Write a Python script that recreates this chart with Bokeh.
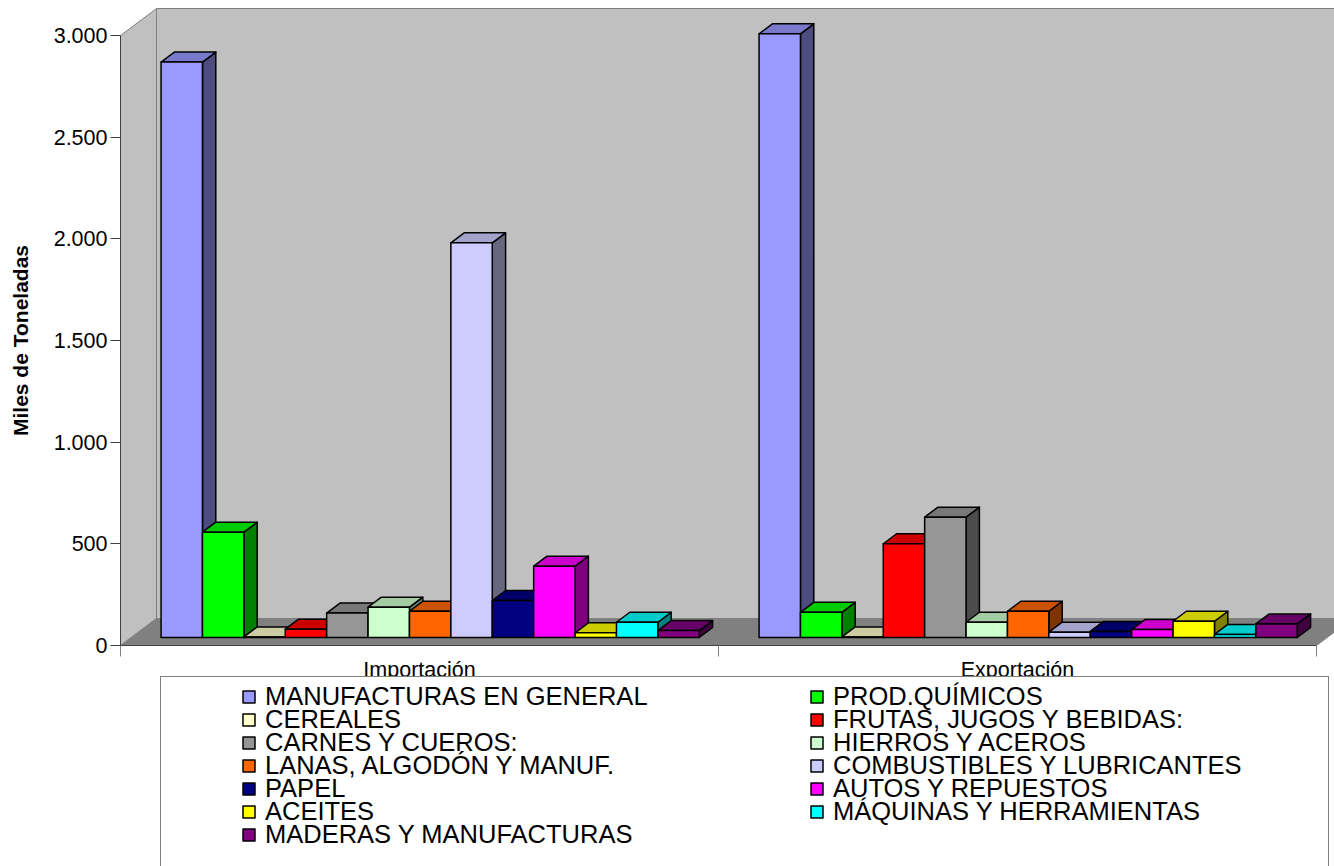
from bokeh.plotting import figure
from bokeh.models import (Range1d, FixedTicker, Legend, LegendItem, ColumnDataSource)
from bokeh.embed import file_html
from bokeh.resources import INLINE

# ---------------- data ----------------
categories = ["Importación", "Exportación"]
series = ["MANUFACTURAS EN GENERAL", "PROD.QUÍMICOS", "CEREALES",
          "FRUTAS, JUGOS Y BEBIDAS:", "CARNES Y CUEROS:", "HIERROS Y ACEROS",
          "LANAS, ALGODÓN Y MANUF.", "COMBUSTIBLES Y LUBRICANTES", "PAPEL",
          "AUTOS Y REPUESTOS", "ACEITES", "MÁQUINAS Y HERRAMIENTAS",
          "MADERAS Y MANUFACTURAS"]
importacion = [2830, 518, 3, 41, 120, 149, 129, 1941, 182, 351, 23, 75, 34]
exportacion = [2969, 124, 3, 461, 592, 75, 129, 26, 30, 39, 80, 15, 67]
colors = ["#9999FF", "#00FF00", "#FFFFCC", "#FF0000", "#969696", "#CCFFCC",
          "#FF6600", "#CCCCFF", "#000080", "#FF00FF", "#FFFF00", "#00FFFF",
          "#800080"]
y_ticks = [0, 500, 1000, 1500, 2000, 2500, 3000]
y_tick_labels = ["0", "500", "1.000", "1.500", "2.000", "2.500", "3.000"]
y_title = "Miles de Toneladas"

# ---------------- geometry / style ----------------
FONT = "Liberation Sans"
W, H = 1334, 866
ORIGIN_X, ORIGIN_Y = 120, 645        # pixel position of (0, 0)
CAT_PX = 598.0                       # pixels per category
Y_MAX = 3000.0
PX_PER_UNIT = 610.0 / Y_MAX          # pixels per data unit
DX = 36.0 / CAT_PX                   # 3-D depth offset (x)
DY = 27.0 / PX_PER_UNIT              # 3-D depth offset (y)
F1, F2 = 8.0 / 27.0, 18.0 / 27.0     # bar depth positions (fraction of depth)
GAP = 0.05
NCAT = len(categories)
BW = (1 - 2 * GAP) / len(series)


def shade(hexcol, f):
    r, g, b = int(hexcol[1:3], 16), int(hexcol[3:5], 16), int(hexcol[5:7], 16)
    return "#%02x%02x%02x" % (int(r * f), int(g * f), int(b * f))


p = figure(width=W, height=H, output_backend="svg", toolbar_location=None,
           x_range=Range1d(-ORIGIN_X / CAT_PX, (W - ORIGIN_X) / CAT_PX),
           y_range=Range1d(-(H - ORIGIN_Y) / PX_PER_UNIT, ORIGIN_Y / PX_PER_UNIT),
           min_border=0, outline_line_color=None,
           background_fill_color="white", border_fill_color="white")
p.xgrid.visible = False
p.ygrid.visible = False

# ---------------- walls & floor ----------------
wall_gray = "#C0C0C0"
p.patch([DX, DX, NCAT + DX, NCAT + DX], [DY, Y_MAX + DY, Y_MAX + DY, DY],
        fill_color=wall_gray, line_color="#808080", line_width=1)
p.patch([0, 0, DX, DX], [0, Y_MAX, Y_MAX + DY, DY],
        fill_color=wall_gray, line_color="#808080", line_width=1)
p.patch([0, NCAT, NCAT + DX, DX], [0, 0, DY, DY],
        fill_color="#808080", line_color="#808080", line_width=1)

# ---------------- bars ----------------
side_xs, side_ys, side_c = [], [], []
top_xs, top_ys, top_c = [], [], []
fronts = {j: dict(left=[], right=[], bottom=[], top=[]) for j in range(len(series))}
ddx, ddy = (F2 - F1) * DX, (F2 - F1) * DY
for ci, vals in enumerate([importacion, exportacion]):
    for j, v in enumerate(vals):
        x0 = ci + GAP + j * BW + F1 * DX
        x1 = x0 + BW
        y0 = F1 * DY
        y1 = y0 + v
        side_xs.append([x1, x1, x1 + ddx, x1 + ddx])
        side_ys.append([y0, y1, y1 + ddy, y0 + ddy])
        side_c.append(shade(colors[j], 0.5))
        top_xs.append([x0, x1, x1 + ddx, x0 + ddx])
        top_ys.append([y1, y1, y1 + ddy, y1 + ddy])
        top_c.append(shade(colors[j], 0.8))
        fronts[j]["left"].append(x0)
        fronts[j]["right"].append(x1)
        fronts[j]["bottom"].append(y0)
        fronts[j]["top"].append(y1)

LW = 1.5
p.patches(side_xs, side_ys, fill_color=side_c, line_color="black", line_width=LW,
          line_join="round")
p.patches(top_xs, top_ys, fill_color=top_c, line_color="black", line_width=LW,
          line_join="round")
front_r = []
for j in range(len(series)):
    r = p.quad(source=ColumnDataSource(fronts[j]), left="left", right="right",
               bottom="bottom", top="top", fill_color=colors[j],
               line_color="black", line_width=LW, line_join="round")
    front_r.append(r)

# ---------------- axes (fixed at the 3-D origin) ----------------
ya = p.yaxis[0]
ya.fixed_location = 0
ya.ticker = FixedTicker(ticks=y_ticks, minor_ticks=[])
ya.major_label_overrides = {t: s for t, s in zip(y_ticks, y_tick_labels)}
ya.bounds = (0, Y_MAX)
ya.major_tick_out = 10
ya.major_tick_in = 0
ya.minor_tick_out = 0
ya.minor_tick_in = 0
ya.major_label_standoff = 3
ya.axis_line_color = "#404040"
ya.major_tick_line_color = "#404040"
ya.major_label_text_font = FONT
ya.major_label_text_font_size = "21.5px"
ya.major_label_text_color = "black"
ya.axis_label = y_title
ya.axis_label_text_font = FONT
ya.axis_label_text_font_size = "21px"
ya.axis_label_text_font_style = "bold"
ya.axis_label_text_color = "black"
ya.axis_label_standoff = 19

xa = p.xaxis[0]
xa.fixed_location = 0
centers = [i + 0.5 for i in range(NCAT)]
xa.ticker = FixedTicker(ticks=centers, minor_ticks=list(range(NCAT + 1)))
xa.major_label_overrides = {c: s for c, s in zip(centers, categories)}
xa.bounds = (0, NCAT)
xa.major_tick_out = 0
xa.major_tick_in = 0
xa.minor_tick_out = 11
xa.minor_tick_in = 0
xa.minor_tick_line_color = "#808080"
xa.axis_line_color = "#404040"
xa.major_label_standoff = 1
xa.major_label_text_font = FONT
xa.major_label_text_font_size = "21.5px"
xa.major_label_text_color = "black"

# ---------------- legend ----------------
# white box with black border behind the legend entries
dummy = p.quad(left=[], right=[], bottom=[], top=[], fill_alpha=0, line_alpha=0)
box = Legend(items=[LegendItem(label=" ", renderers=[dummy])],
             location=(160, -12), padding=0, margin=0, glyph_width=1,
             glyph_height=1, label_standoff=0, label_width=1166,
             label_height=200, label_text_font_size="2px",
             border_line_color="black", border_line_width=1,
             background_fill_color="white", background_fill_alpha=1.0)
p.add_layout(box)

# one legend per row (two entries each), rows 23 px apart
ROW0, ROW_PITCH, ROW_H = 696, 23, 29.5
for r in range((len(series) + 1) // 2):
    idx = [k for k in (2 * r, 2 * r + 1) if k < len(series)]
    items = [LegendItem(label=series[k], renderers=[front_r[k]]) for k in idx]
    center = ROW0 + r * ROW_PITCH
    leg = Legend(items=items, location=(241, H - center - ROW_H / 2),
                 ncols=2, glyph_width=15, glyph_height=15, label_standoff=9,
                 label_text_font=FONT, label_text_font_size="25.5px",
                 label_text_color="black", padding=0, margin=0, spacing=0,
                 label_width=544, border_line_alpha=0,
                 background_fill_alpha=0)
    p.add_layout(leg)

open("out.html", "w").write(file_html(p, INLINE))
